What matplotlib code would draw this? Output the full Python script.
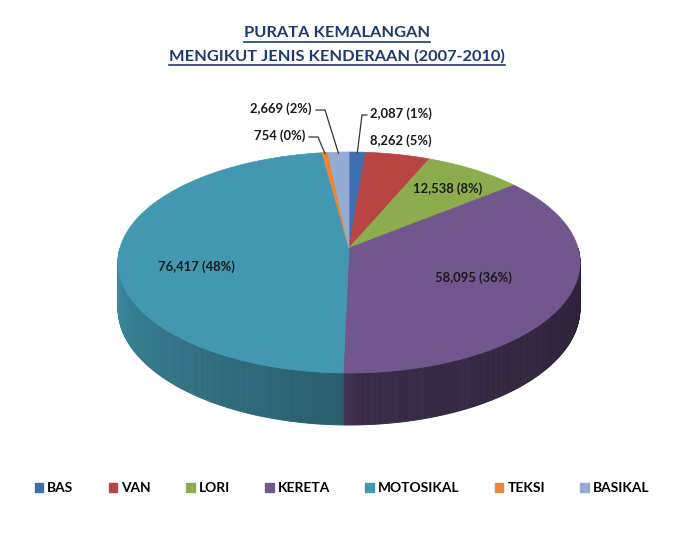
import numpy as np
import matplotlib
matplotlib.use("Agg")
import matplotlib.pyplot as plt
from matplotlib.patches import Polygon, Patch
from matplotlib.colors import to_rgb

plt.rcParams['font.family'] = ['Lato', 'DejaVu Sans']

categories = ["BAS", "VAN", "LORI", "KERETA", "MOTOSIKAL", "TEKSI", "BASIKAL"]
values = [2087, 8262, 12538, 58095, 76417, 754, 2669]
colors = ["#3d70b0", "#b84542", "#8cac4e", "#72578f", "#4298b0", "#e8863a", "#94acd4"]
title_lines = ["PURATA KEMALANGAN", "MENGIKUT JENIS KENDERAAN (2007-2010)"]

# label anchors (pixel layout): x, y, ha, leader elbow x or None
label_pos = [
    (370, 114, "left", 362),
    (370, 141, "left", None),
    (448, 189, "center", None),
    (473, 278, "center", None),
    (196, 267, "center", None),
    (305, 136, "right", 318),
    (312, 109, "right", 325),
]

W, H = 677, 548
fig = plt.figure(figsize=(W / 100, H / 100), dpi=100)
ax = fig.add_axes([0, 0, 1, 1])
ax.set_xlim(0, W)
ax.set_ylim(H, 0)
ax.axis("off")

# simple perspective projection of a unit disk
cx, R = 349, 229
pa, pb, pc = -76.05, 248.0, 0.1312
depth = 45.2


def proj(phi, r=1.0):
    u, v = r * np.cos(phi), r * np.sin(phi)
    w = 1 + pc * v
    return cx + R * u / w, (pb + pa * v) / w, depth / w


total = sum(values)
fracs = np.array(values) / total
ends = np.pi / 2 - 2 * np.pi * np.cumsum(fracs)
starts = np.concatenate([[np.pi / 2], ends[:-1]])

# side walls (front half only)
shade_ang = np.radians([180, 268, 272, 360])
shade_val = [0.92, 0.62, 0.50, 0.38]
for s, e, col in zip(starts, ends, colors):
    phis = np.linspace(s, e, max(int((s - e) * 120), 2))
    base = np.array(to_rgb(col))
    for p0, p1 in zip(phis[:-1], phis[1:]):
        pm = (p0 + p1) / 2 % (2 * np.pi)
        if pm < np.pi:
            continue
        x0, y0, d0 = proj(p0)
        x1, y1, d1 = proj(p1)
        f = np.interp(pm, shade_ang, shade_val)
        c = tuple(base * f)
        ax.add_patch(Polygon([(x0, y0), (x1, y1), (x1, y1 + d1), (x0, y0 + d0)],
                             closed=True, facecolor=c, edgecolor=c, lw=0.6))

# top faces
for s, e, col in zip(starts, ends, colors):
    phis = np.linspace(s, e, max(int((s - e) * 60), 3))
    xs, ys, _ = proj(phis)
    ox, oy, _ = proj(0.0, 0.0)
    pts = [(ox, oy)] + list(zip(xs, ys))
    ax.add_patch(Polygon(pts, closed=True, facecolor=col, edgecolor=col, lw=0.5))

# data labels
for i, (val, fr) in enumerate(zip(values, fracs)):
    lx, ly, ha, elbow = label_pos[i]
    txt = f"{val:,} ({fr * 100:.0f}%)"
    ax.text(lx, ly, txt, ha=ha, va="center", fontsize=9.4, fontweight="bold",
            color="#1a1a1a")
    if elbow is not None:
        mid = (starts[i] + ends[i]) / 2
        rx, ry, _ = proj(mid)
        sx = lx - 3 if ha == "left" else lx + 4
        ax.plot([sx, elbow, rx], [ly + 1, ly + 1, ry + 1], color="#333333", lw=0.9)

# title with underline
fig.canvas.draw()
renderer = fig.canvas.get_renderer()
for line, ty in zip(title_lines, [33, 56]):
    t = ax.text(337, ty, line, ha="center", va="center", fontsize=11.8,
                fontweight="bold", color="#1f3a6e")
    bb = t.get_window_extent(renderer).transformed(ax.transData.inverted())
    ax.plot([bb.x0, bb.x1], [ty + 9, ty + 9], color="#1f3a6e", lw=1.2)

handles = [Patch(facecolor=c, edgecolor=c) for c in colors]
fig.legend(handles, categories, loc="center", bbox_to_anchor=(342 / W, 1 - 488 / H),
           ncol=7, frameon=False, handlelength=0.63, handleheight=0.63,
           handletextpad=0.3, columnspacing=2.55,
           prop={"size": 9.9, "weight": "bold"})

fig.savefig("out.png", dpi=100)
